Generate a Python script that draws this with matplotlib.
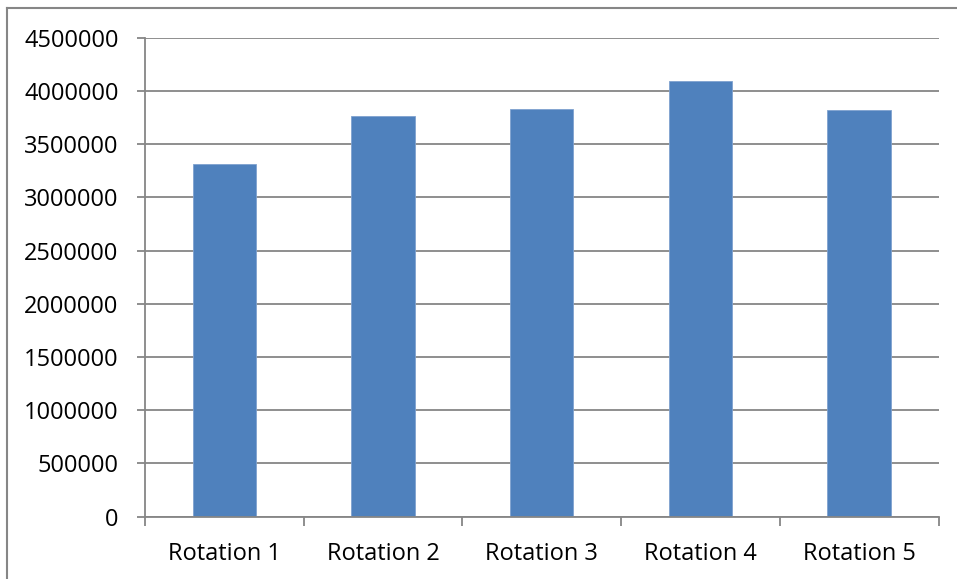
import matplotlib
matplotlib.use("Agg")
import matplotlib.pyplot as plt
from matplotlib.lines import Line2D
from matplotlib.ticker import FixedLocator, NullFormatter

categories = ["Rotation 1", "Rotation 2", "Rotation 3", "Rotation 4", "Rotation 5"]
values = [3317000, 3766000, 3829000, 4092000, 3820000]
y_ticks = [0, 500000, 1000000, 1500000, 2000000, 2500000, 3000000, 3500000, 4000000, 4500000]

BAR = "#4F81BD"
GRID = "#868686"

plt.rcParams["font.family"] = ["Open Sans", "DejaVu Sans"]

W, H = 957, 579
fig = plt.figure(figsize=(W / 100, H / 100), dpi=100)
ax = fig.add_axes([145 / W, (H - 516.7) / H, (938.5 - 145) / W, (516.7 - 37.7) / H])

x = list(range(len(categories)))
ax.bar(x, values, width=0.40, color=BAR, edgecolor="#7FA2CF", linewidth=0.6, zorder=3)

ax.set_xlim(-0.5, len(categories) - 0.5)
ax.set_ylim(0, 4500000)
ax.set_yticks(y_ticks)
ax.set_yticklabels([str(v) for v in y_ticks])
ax.set_xticks(x)
ax.set_xticklabels(categories)
ax.xaxis.set_minor_locator(FixedLocator([i - 0.5 for i in range(len(categories) + 1)]))
ax.xaxis.set_minor_formatter(NullFormatter())

ax.grid(axis="y", color=GRID, linewidth=1.3, zorder=0)
ax.tick_params(axis="y", direction="out", length=6, width=1.3, color=GRID,
               labelsize=17, pad=13)
ax.tick_params(axis="x", which="major", length=0, labelsize=17, pad=18)
ax.tick_params(axis="x", which="minor", direction="out", length=6.5, width=1.3, color=GRID)

for side in ("top", "right"):
    ax.spines[side].set_visible(False)
for side in ("left", "bottom"):
    ax.spines[side].set_color(GRID)
    ax.spines[side].set_linewidth(1.3)
    ax.spines[side].set_zorder(4)

# outer chart-area frame (top and left edges)
fig.add_artist(Line2D([7.5 / W, 1.0], [1 - 7.5 / H, 1 - 7.5 / H],
                      transform=fig.transFigure, color=GRID, linewidth=1.5))
fig.add_artist(Line2D([7.5 / W, 7.5 / W], [0.0, 1 - 7.5 / H],
                      transform=fig.transFigure, color=GRID, linewidth=1.5))

fig.savefig("out.png", dpi=100, facecolor="white")
